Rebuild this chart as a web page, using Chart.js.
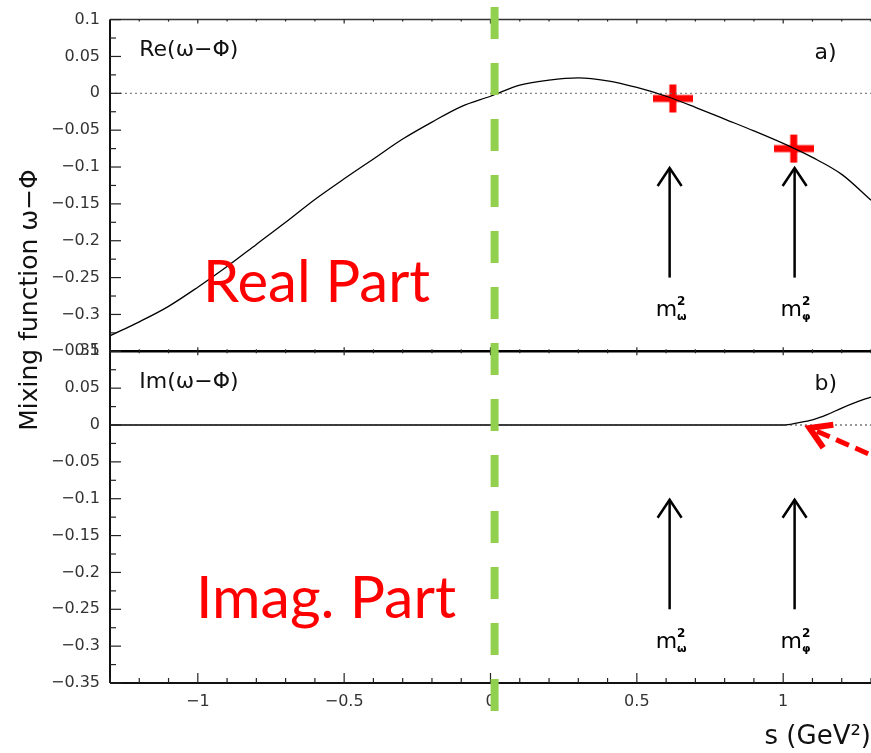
<!DOCTYPE html>
<html>
<head>
<meta charset="utf-8">
<script src="https://cdn.jsdelivr.net/npm/chart.js@4.4.1/dist/chart.umd.min.js"></script>
<style>
  body { margin: 0; background: #fff; }
  #wrap { width: 871px; height: 753px; position: relative; }
</style>
</head>
<body>
<div id="wrap"><canvas id="mixChart"></canvas></div>
<script>
// s values (GeV^2) and the real part of the omega-phi mixing function
const sValues = [-1.3, -1.2, -1.1, -1.0, -0.9, -0.8, -0.7, -0.6, -0.5, -0.4, -0.3, -0.2, -0.1, 0.0,
                 0.1, 0.2, 0.3, 0.4, 0.5, 0.6, 0.7, 0.8, 0.9, 1.0, 1.1, 1.2, 1.3];
const reValues = [-0.329, -0.310, -0.289, -0.263, -0.235, -0.205, -0.175, -0.144, -0.116, -0.089, -0.062, -0.039, -0.018, -0.004,
                  0.011, 0.018, 0.021, 0.017, 0.008, -0.004, -0.019, -0.035, -0.051, -0.068, -0.087, -0.110, -0.145];
// imaginary part: zero below threshold, rises above s ~ 1
const imS = [-1.3, 1.0, 1.05, 1.1, 1.15, 1.2, 1.25, 1.3];
const imValues = [0, 0, 0.003, 0.007, 0.014, 0.023, 0.031, 0.038];
// red crosses on the real part
const crossS = [0.623, 1.036];
const crossRe = [-0.007, -0.075];
// mass positions marked by the arrows
const massS = [0.612, 1.039];
const massSub = ['ω', 'φ'];
const greenLineS = 0.014;

const minus = v => String(+v.toFixed(3)).replace('-', '−');
const isMult = (v, step) => Math.abs(v / step - Math.round(v / step)) < 1e-6;

// red cross marker
const crossImg = document.createElement('canvas');
crossImg.width = 40; crossImg.height = 30;
(function () {
  const c = crossImg.getContext('2d');
  c.fillStyle = '#ff0000';
  c.fillRect(0, 11.5, 40, 7);
  c.fillRect(16.5, 1, 7, 28);
})();

const tickFont = { family: 'DejaVu Sans', size: 16 };

const yOpts = () => ({
  type: 'linear',
  position: 'left',
  stack: 'panels',
  stackWeight: 1,
  min: -0.35,
  max: 0.1,
  grid: { display: false, drawTicks: false },
  border: { display: false },
  ticks: {
    stepSize: 0.025,
    autoSkip: false,
    padding: 10,
    color: '#333',
    font: tickFont,
    callback: v => isMult(v, 0.05) ? minus(v) : ''
  },
  afterFit: s => { s.width = 110; }
});

function line(ctx, x1, y1, x2, y2) {
  ctx.beginPath(); ctx.moveTo(x1, y1); ctx.lineTo(x2, y2); ctx.stroke();
}

const decor = {
  id: 'decor',
  afterDraw(chart) {
    const ctx = chart.ctx;
    const a = chart.chartArea;
    const xs = chart.scales.x;
    const yRe = chart.scales.yRe;
    const yIm = chart.scales.yIm;
    const mid = yRe.bottom;
    ctx.save();

    // frame
    ctx.strokeStyle = '#111';
    ctx.lineWidth = 2;
    line(ctx, a.left, a.top, a.left, a.bottom);
    line(ctx, a.left, a.bottom, a.right, a.bottom);
    ctx.lineWidth = 1.5;
    ctx.strokeStyle = '#333';
    line(ctx, a.left, a.top, a.right, a.top);
    ctx.strokeStyle = '#000';
    ctx.lineWidth = 2.5;
    line(ctx, a.left, mid, a.right, mid);

    // inward ticks
    ctx.strokeStyle = '#222';
    ctx.lineWidth = 1.2;
    [yRe, yIm].forEach(sc => {
      sc.ticks.forEach(t => {
        const y = sc.getPixelForValue(t.value);
        line(ctx, a.left, y, a.left + (isMult(t.value, 0.05) ? 11 : 6), y);
      });
    });
    xs.ticks.forEach(t => {
      const x = xs.getPixelForValue(t.value);
      const major = isMult(t.value, 0.5);
      line(ctx, x, a.bottom, x, a.bottom - (major ? 10 : 5));
      line(ctx, x, mid, x, mid - (major ? 4 : 2));
      line(ctx, x, mid, x, mid + (major ? 4 : 2));
      line(ctx, x, a.top, x, a.top + (major ? 4 : 2));
    });

    // panel labels
    ctx.fillStyle = '#111';
    ctx.font = '22px "DejaVu Sans"';
    ctx.textAlign = 'left';
    ctx.textBaseline = 'alphabetic';
    ctx.fillText('Re(ω−Φ)', xs.getPixelForValue(-1.2), yRe.getPixelForValue(0.05));
    ctx.fillText('a)', xs.getPixelForValue(1.107), yRe.getPixelForValue(0.047));
    ctx.fillText('Im(ω−Φ)', xs.getPixelForValue(-1.2), yIm.getPixelForValue(0.05));
    ctx.fillText('b)', xs.getPixelForValue(1.107), yIm.getPixelForValue(0.047));

    // arrows and mass labels
    [yRe, yIm].forEach(sc => {
      massS.forEach((m, i) => {
        const x = xs.getPixelForValue(m);
        const yTip = sc.getPixelForValue(-0.1);
        const yEnd = sc.getPixelForValue(-0.25);
        ctx.strokeStyle = '#000';
        ctx.lineWidth = 2.5;
        line(ctx, x, yEnd, x, yTip + 1);
        ctx.beginPath();
        ctx.moveTo(x - 12, yTip + 19);
        ctx.lineTo(x, yTip + 1);
        ctx.lineTo(x + 12, yTip + 19);
        ctx.stroke();
        const yb = sc.getPixelForValue(-0.302);
        ctx.fillStyle = '#000';
        ctx.font = '22px "DejaVu Sans"';
        ctx.fillText('m', x - 14, yb);
        const w = ctx.measureText('m').width;
        ctx.font = 'bold 12px "DejaVu Sans"';
        ctx.fillText('2', x - 14 + w, yb - 11);
        ctx.font = 'bold 11px "DejaVu Sans"';
        ctx.fillText(massSub[i], x - 14 + w, yb + 4);
      });
    });

    // y axis title
    ctx.save();
    ctx.translate(30, 300);
    ctx.rotate(-Math.PI / 2);
    ctx.font = '25px "DejaVu Sans"';
    ctx.textAlign = 'center';
    ctx.textBaseline = 'middle';
    ctx.fillStyle = '#111';
    ctx.fillText('Mixing function ω−Φ', 0, 0);
    ctx.restore();

    // big red captions
    ctx.fillStyle = '#ff0000';
    ctx.font = '58px Lato';
    ctx.textAlign = 'left';
    ctx.fillText('Real Part', 203, 302);
    ctx.font = '59px Lato';
    ctx.fillText('Imag. Part', 196, 618);

    // green dashed vertical line
    const gx = xs.getPixelForValue(greenLineS);
    ctx.strokeStyle = '#92d050';
    ctx.lineWidth = 8;
    ctx.setLineDash([32, 24]);
    line(ctx, gx, 7, gx, 711);

    // red dashed arrow pointing at the threshold
    const tx = xs.getPixelForValue(1.09), ty = yIm.getPixelForValue(-0.004);
    const ex = xs.getPixelForValue(1.4), ey = yIm.getPixelForValue(-0.058);
    const ang = Math.atan2(ey - ty, ex - tx);
    ctx.strokeStyle = '#ff0000';
    ctx.lineWidth = 5;
    ctx.setLineDash([14, 7]);
    line(ctx, tx + 8 * Math.cos(ang), ty + 8 * Math.sin(ang), ex, ey);
    ctx.setLineDash([]);
    ctx.lineWidth = 6;
    ctx.beginPath();
    ctx.moveTo(tx + 24 * Math.cos(ang - 0.55), ty + 24 * Math.sin(ang - 0.55));
    ctx.lineTo(tx, ty);
    ctx.lineTo(tx + 24 * Math.cos(ang + 0.55), ty + 24 * Math.sin(ang + 0.55));
    ctx.stroke();

    ctx.restore();
  }
};

const ctx = document.getElementById('mixChart');
new Chart(ctx, {
  type: 'line',
  data: {
    datasets: [
      {
        label: 'Re',
        data: sValues.map((s, i) => ({ x: s, y: reValues[i] })),
        yAxisID: 'yRe',
        borderColor: '#000',
        borderWidth: 1.3,
        pointRadius: 0,
        cubicInterpolationMode: 'monotone'
      },
      {
        label: 'Re zero',
        data: [{ x: -1.3, y: 0 }, { x: 1.3, y: 0 }],
        yAxisID: 'yRe',
        borderColor: '#666',
        borderWidth: 1,
        borderDash: [2, 3],
        pointRadius: 0
      },
      {
        label: 'Im zero',
        data: [{ x: -1.3, y: 0 }, { x: 1.3, y: 0 }],
        yAxisID: 'yIm',
        borderColor: '#333',
        borderWidth: 1,
        borderDash: [2, 3],
        pointRadius: 0
      },
      {
        label: 'Im',
        data: imS.map((s, i) => ({ x: s, y: imValues[i] })),
        yAxisID: 'yIm',
        borderColor: '#000',
        borderWidth: 1.3,
        pointRadius: 0,
        cubicInterpolationMode: 'monotone'
      },
      {
        label: 'points',
        type: 'scatter',
        data: crossS.map((s, i) => ({ x: s, y: crossRe[i] })),
        yAxisID: 'yRe',
        pointStyle: crossImg,
        pointRadius: 20,
        clip: false
      }
    ]
  },
  options: {
    responsive: true,
    maintainAspectRatio: false,
    animation: false,
    layout: { autoPadding: false, padding: { top: 18, right: 0, bottom: 0, left: 0 } },
    plugins: { legend: { display: false }, tooltip: { enabled: false } },
    scales: {
      x: {
        type: 'linear',
        min: -1.3,
        max: 1.3,
        grid: { display: false, drawTicks: false },
        border: { display: false },
        ticks: {
          stepSize: 0.1,
          autoSkip: false,
          maxRotation: 0,
          padding: 9,
          color: '#333',
          font: tickFont,
          callback: v => isMult(v, 0.5) ? minus(v) : ''
        },
        title: {
          display: true,
          text: 's (GeV²)',
          align: 'end',
          color: '#111',
          font: { family: 'DejaVu Sans', size: 26 },
          padding: { top: 0, bottom: 0 }
        },
        afterFit: s => { s.height = 70; s.paddingLeft = 0; s.paddingRight = 0; }
      },
      yIm: yOpts(),
      yRe: yOpts()
    }
  },
  plugins: [decor]
});
</script>
</body>
</html>
